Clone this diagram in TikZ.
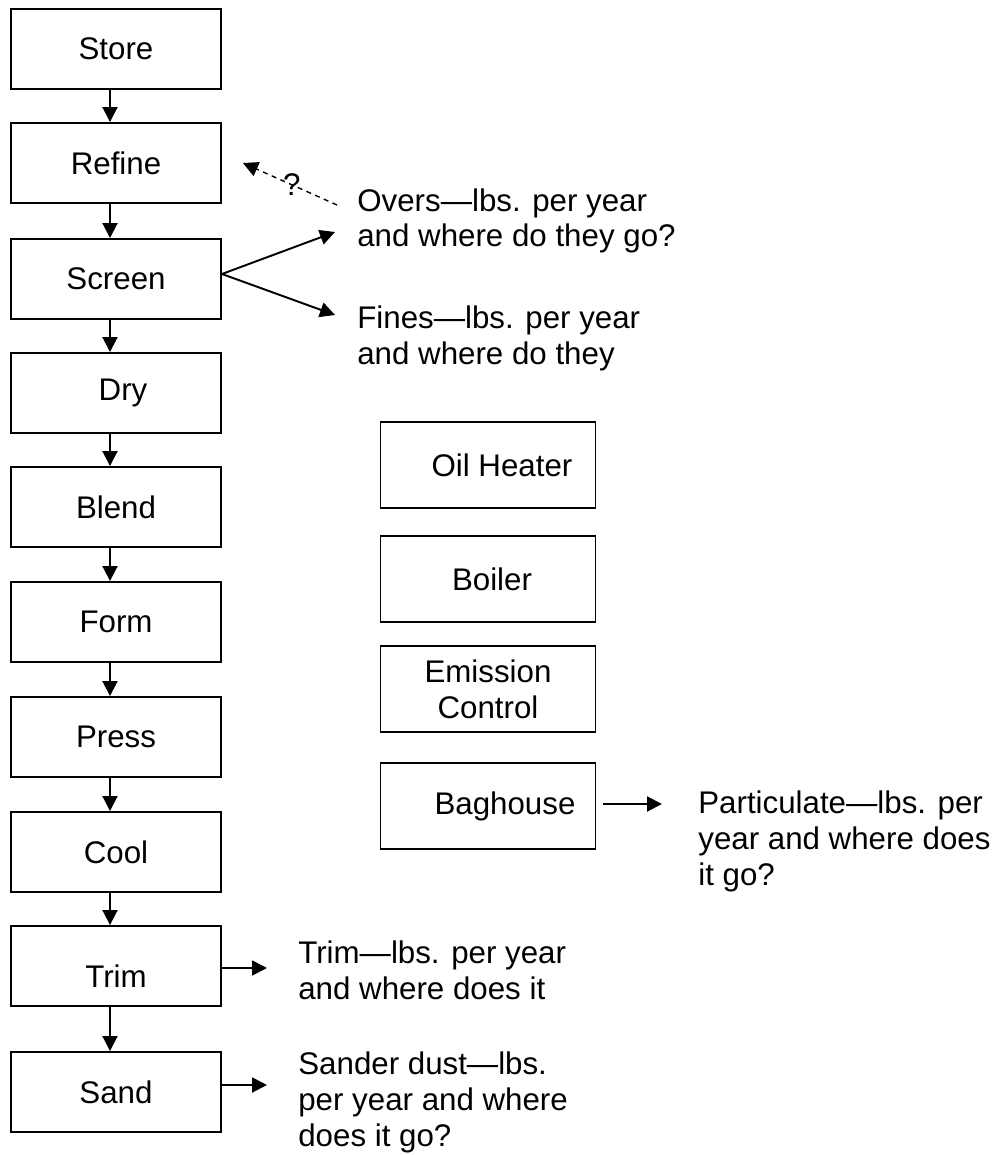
\documentclass[tikz,border=0pt]{standalone}
\usepackage{fontspec}
\setmainfont{Liberation Sans}
\usetikzlibrary{arrows.meta, positioning, calc}

\begin{document}
\begin{tikzpicture}[
    x=0.2mm, y=-0.2mm,
    >={Triangle[length=3mm, width=3mm]},
    font=\fontsize{17.8}{20.4}\selectfont,
    stage/.style={
        rectangle,
        draw=black,
        line width=1.1pt,
        minimum width=42mm,
        minimum height=16mm,
        inner sep=0pt
    },
    plant/.style={
        rectangle,
        draw=black,
        line width=1.1pt,
        minimum width=43mm,
        minimum height=17.2mm,
        inner sep=0pt,
        align=center
    },
    flow/.style={
        ->,
        line width=1.1pt,
        draw=black
    },
    maybe/.style={
        ->,
        line width=0.8pt,
        draw=black,
        dash pattern=on 1mm off 0.9mm
    },
    note/.style={
        anchor=base west,
        align=left,
        inner sep=0pt
    }
]

\useasboundingbox (0,0) rectangle (1000,1155);

% main line
\node[stage] (store)  at (116,  49) {Store};
\node[stage] (refine) at (116, 163) {Refine};
\node[stage] (screen) at (116, 279) {Screen};
\node[stage] (dry)    at (116, 393) {\hspace{2.8mm}Dry};
\node[stage] (blend)  at (116, 507) {Blend};
\node[stage] (form)   at (116, 622) {Form};
\node[stage] (press)  at (116, 737) {Press};
\node[stage] (cool)   at (116, 852) {Cool};
\node[stage] (trim)   at (116, 966) {\raisebox{-2mm}[\height][\depth]{Trim}};
\node[stage] (sand)   at (116,1092) {Sand};

% utilities
\node[plant] (oilheater) at (488, 465) {\hspace{5.6mm}Oil Heater};
\node[plant] (boiler)    at (488, 579) {\hspace{1.6mm}Boiler};
\node[plant] (emission)  at (488, 689) {Emission\\Control};
\node[plant] (baghouse)  at (488, 806) {\hspace{6.8mm}Baghouse};

% notes (placed at the baseline of their last line)
\node[note] (overs)   at (357, 247) {Overs—lbs. per year\\and where do they go?};
\node[note] (fines)   at (357, 364) {Fines—lbs. per year\\and where do they};
\node[note] (partic)  at (698, 885) {Particulate—lbs. per\\year and where does\\it go?};
\node[note] (trimtxt) at (298, 999) {Trim—lbs. per year\\and where does it};
\node[note] (sandtxt) at (298,1146) {Sander dust—lbs.\\per year and where\\does it go?};

\coordinate (screenOut) at (220, 274);
\coordinate (oversTip)  at (335, 232);
\coordinate (finesTip)  at (335, 315);
\coordinate (backTip)   at (243, 163);
\coordinate (particTip) at (662, 804);
\coordinate (trimTip)   at (267, 968);
\coordinate (sandTip)   at (267,1085);

\draw[flow] ([xshift=-1.2mm]store.south)  -- ([xshift=-1.2mm]refine.north);
\draw[flow] ([xshift=-1.2mm]refine.south) -- ([xshift=-1.2mm]screen.north);
\draw[flow] ([xshift=-1.2mm]screen.south) -- ([xshift=-1.2mm]dry.north);
\draw[flow] ([xshift=-1.2mm]dry.south)    -- ([xshift=-1.2mm]blend.north);
\draw[flow] ([xshift=-1.2mm]blend.south)  -- ([xshift=-1.2mm]form.north);
\draw[flow] ([xshift=-1.2mm]form.south)   -- ([xshift=-1.2mm]press.north);
\draw[flow] ([xshift=-1.2mm]press.south)  -- ([xshift=-1.2mm]cool.north);
\draw[flow] ([xshift=-1.2mm]cool.south)   -- ([xshift=-1.2mm]trim.north);
\draw[flow] ([xshift=-1.2mm]trim.south)   -- ([xshift=-1.2mm]sand.north);

\draw[flow] (screen.east |- screenOut) -- (oversTip);
\draw[flow] (screen.east |- screenOut) -- (finesTip);

\draw[maybe] ([shift={(-4mm,8.4mm)}]overs.base west) --
    node[pos=0.48, inner sep=0pt] {?} (backTip);

\draw[flow] ($(baghouse.east |- particTip)+(7,0)$) -- (particTip);
\draw[flow] (trim.east |- trimTip) -- (trimTip);
\draw[flow] (sand.east |- sandTip) -- (sandTip);

\end{tikzpicture}
\end{document}
